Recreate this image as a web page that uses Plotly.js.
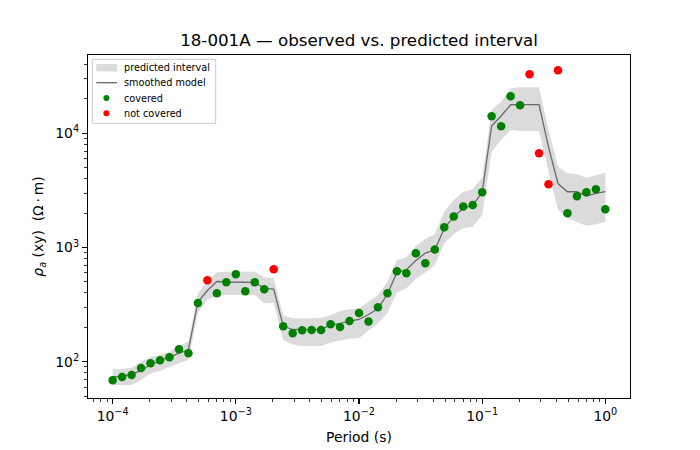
<!DOCTYPE html>
<html>
<head>
<meta charset="utf-8">
<script src="https://cdn.plot.ly/plotly-3.0.1.min.js"></script>
<style>html,body{margin:0;padding:0;background:#fff;}#chart{width:700px;height:450px;}</style>
</head>
<body>
<div id="chart"></div>
<script>
// Period (s)
const period = [
  1.0000e-4, 1.1938e-4, 1.4251e-4, 1.7013e-4, 2.0309e-4, 2.4245e-4, 2.8943e-4, 3.4551e-4, 4.1246e-4, 4.9239e-4, 5.8780e-4, 7.0170e-4, 8.3768e-4,
  1.0000e-3, 1.1938e-3, 1.4251e-3, 1.7013e-3, 2.0309e-3, 2.4245e-3, 2.8943e-3, 3.4551e-3, 4.1246e-3, 4.9239e-3, 5.8780e-3, 7.0170e-3, 8.3768e-3,
  1.0000e-2, 1.1938e-2, 1.4251e-2, 1.7013e-2, 2.0309e-2, 2.4245e-2, 2.8943e-2, 3.4551e-2, 4.1246e-2, 4.9239e-2, 5.8780e-2, 7.0170e-2, 8.3768e-2,
  1.0000e-1, 1.1938e-1, 1.4251e-1, 1.7013e-1, 2.0309e-1, 2.4245e-1, 2.8943e-1, 3.4551e-1, 4.1246e-1, 4.9239e-1, 5.8780e-1, 7.0170e-1, 8.3768e-1,
  1.0
];
// observed apparent resistivity (ohm m)
const observed = [
  68.7, 73.5, 76.5, 88.1, 96.8, 102.9, 109.3, 128.4, 118.5, 326.6, 516.2, 397.2, 495.8,
  582.6, 413.5, 495.8, 430.5, 644.3, 204.2, 177.3, 188.4, 189.5, 189.5, 212.6, 201.3, 227.2,
  267.0, 224.9, 299.5, 397.2, 618.8, 594.3, 889.6, 727.1, 960.5, 1503, 1868, 2286, 2356,
  3043, 14090, 11515, 21086, 17590, 32860, 6684, 3576, 35620, 1993, 2807, 3043, 3233,
  2160
];
// 1 = inside predicted interval, 0 = outside
const coveredFlag = [
  1,1,1,1,1,1,1,1,1,1,0,1,1,
  1,1,1,1,0,1,1,1,1,1,1,1,1,
  1,1,1,1,1,1,1,1,1,1,1,1,1,
  1,1,1,1,1,0,0,0,0,1,1,1,1,
  1
];
// smoothed model
const model = [
  73.9, 74.2, 77.3, 83.4, 94.5, 101.4, 110.0, 118.0, 127.9, 333.3, 420.3, 503.9, 498.8,
  495.8, 495.8, 495.8, 439.2, 433.1, 205.4, 191.4, 190.6, 191.4, 191.4, 209.6, 215.1, 227.2,
  234.2, 259.0, 291.1, 391.6, 604.0, 639.1, 769.2, 894.9, 950.8, 1473, 1861, 2205, 2356,
  3031, 11655, 14175, 17800, 17870, 17870, 17870, 7586, 3634, 3080, 3080, 2825, 2983,
  3080
];
// predicted interval bounds
const upper = [
  85.8, 86.3, 88.6, 100, 109.3, 114.5, 122.4, 137.3, 149.7, 397.2, 509.0, 606.4, 613.9,
  613.9, 613.9, 613.9, 548.3, 537.4, 253.9, 239.9, 238.9, 241.3, 241.3, 256.4, 276.3, 289.4,
  292.3, 335.2, 383.8, 503.9, 777.0, 820.6, 1031, 1187, 1313, 2058, 2606, 3080, 3233,
  4102, 15996, 18913, 24790, 25280, 25280, 25280, 10688, 5099, 4465, 4375, 4085, 4314,
  4519
];
const lower = [
  62.5, 62.5, 62.5, 69.1, 79.1, 83.4, 90.4, 96.8, 103.5, 268.6, 351.9, 370.9, 383.8,
  383.8, 383.8, 383.8, 324.6, 326.6, 154.9, 141.5, 136.4, 135.9, 137.3, 147.3, 153.3, 159.0,
  161.2, 187.6, 216.9, 267.0, 403.6, 439.2, 529.9, 604.0, 698.4, 1089, 1313, 1473, 1521,
  1926, 6902, 8737, 10688, 10475, 10475, 10475, 4611, 2130, 1802, 1683, 1552, 1597,
  1683
];
const xTickVals = [1e-4, 1e-3, 1e-2, 1e-1, 1];
const xTickText = ['10<sup>\u22124</sup>', '10<sup>\u22123</sup>', '10<sup>\u22122</sup>', '10<sup>\u22121</sup>', '10<sup>0</sup>'];
const yTickVals = [1e2, 1e3, 1e4];
const yTickText = ['10<sup>2</sup>', '10<sup>3</sup>', '10<sup>4</sup>'];
const legendLabels = ['predicted interval', 'smoothed model', 'covered', 'not covered'];

function minorTicks(lo, hi) {
  const out = [];
  for (let e = Math.floor(lo); e <= Math.ceil(hi); e++) {
    for (let m = 2; m <= 9; m++) {
      const v = m * Math.pow(10, e);
      const lv = Math.log10(v);
      if (lv >= lo && lv <= hi) out.push(v);
    }
  }
  return out;
}

const xRange = [-4.2, 0.2];
const yRange = [1.682, 4.686];

const covX = [], covY = [], ncX = [], ncY = [];
for (let i = 0; i < period.length; i++) {
  if (coveredFlag[i]) { covX.push(period[i]); covY.push(observed[i]); }
  else { ncX.push(period[i]); ncY.push(observed[i]); }
}

const FONT = 'DejaVu Sans, Liberation Sans, sans-serif';
const BAND = 'rgba(211,211,211,0.82)';
const LINE = '#6a6a6a';

const traces = [
  {x: period, y: lower, type: 'scatter', mode: 'lines', line: {width: 0, color: 'rgba(0,0,0,0)'},
   showlegend: false, hoverinfo: 'skip'},
  {x: period, y: upper, type: 'scatter', mode: 'lines', line: {width: 0, color: 'rgba(0,0,0,0)'},
   fill: 'tonexty', fillcolor: BAND, name: legendLabels[0], showlegend: false},
  {x: period, y: model, type: 'scatter', mode: 'lines', line: {width: 1.3, color: LINE},
   name: legendLabels[1], showlegend: false},
  {x: covX, y: covY, type: 'scatter', mode: 'markers', marker: {size: 8.5, color: 'green'},
   name: legendLabels[2], showlegend: false},
  {x: ncX, y: ncY, type: 'scatter', mode: 'markers', marker: {size: 8.5, color: 'red'},
   name: legendLabels[3], showlegend: false}
];

// legend box (drawn in paper coordinates of the plotting area: 542 x 343 px)
const PW = 542, PH = 343;
const px = v => v / PW;          // px offset from plot left -> paper x
const py = v => 1 - v / PH;      // px offset from plot top -> paper y
const L0 = 4.3, T0 = 4.3;        // box top-left offset
const rowY = [12.7, 27.7, 43, 58.3];
const shapes = [
  {type: 'rect', xref: 'paper', yref: 'paper', x0: px(L0), x1: px(L0 + 123.4), y0: py(T0), y1: py(T0 + 64),
   line: {color: '#cccccc', width: 1}, fillcolor: 'rgba(255,255,255,0.8)', layer: 'above'},
  {type: 'rect', xref: 'paper', yref: 'paper', x0: px(8.3), x1: px(29), y0: py(rowY[0] - 3.7), y1: py(rowY[0] + 3.7),
   line: {width: 0}, fillcolor: BAND, layer: 'above'},
  {type: 'line', xref: 'paper', yref: 'paper', x0: px(8.3), x1: px(29), y0: py(rowY[1]), y1: py(rowY[1]),
   line: {color: LINE, width: 1.3}, layer: 'above'},
  {type: 'circle', xref: 'paper', yref: 'paper', xsizemode: 'pixel', ysizemode: 'pixel',
   xanchor: px(18.4), yanchor: py(rowY[2]), x0: -3, x1: 3, y0: -3, y1: 3,
   line: {width: 0}, fillcolor: 'green', layer: 'above'},
  {type: 'circle', xref: 'paper', yref: 'paper', xsizemode: 'pixel', ysizemode: 'pixel',
   xanchor: px(18.4), yanchor: py(rowY[3]), x0: -3, x1: 3, y0: -3, y1: 3,
   line: {width: 0}, fillcolor: 'red', layer: 'above'}
];
const annotations = legendLabels.map((t, i) => ({
  text: t, xref: 'paper', yref: 'paper', x: px(33.5), y: py(rowY[i]), xanchor: 'left', yanchor: 'middle',
  showarrow: false, font: {family: FONT, size: 9.7, color: 'black'}
}));

const axisCommon = {
  type: 'log', showgrid: false, zeroline: false, showline: true, mirror: true,
  linecolor: 'black', linewidth: 1.1, ticks: 'outside', ticklen: 5, tickwidth: 1.1, tickcolor: 'black',
  tickmode: 'array', tickfont: {family: FONT, size: 13.9, color: 'black'}
};

const layout = {
  width: 700, height: 450,
  margin: {l: 88, r: 70, t: 55, b: 52, pad: 0},
  paper_bgcolor: 'white', plot_bgcolor: 'white',
  font: {family: FONT, color: 'black'},
  title: {text: '18-001A \u2014 observed vs. predicted interval', font: {family: FONT, size: 16.7, color: 'black'},
          x: 359 / 700, xref: 'container', xanchor: 'center', y: 1 - 40 / 450, yref: 'container', yanchor: 'middle'},
  xaxis: Object.assign({}, axisCommon, {
    range: xRange, tickvals: xTickVals, ticktext: xTickText,
    minor: {tickmode: 'array', tickvals: minorTicks(xRange[0], xRange[1]), ticks: 'outside', ticklen: 2.8, tickwidth: 0.8, tickcolor: 'black'},
    title: {text: 'Period (s)', font: {family: FONT, size: 13.9, color: 'black'}, standoff: 9}
  }),
  yaxis: Object.assign({}, axisCommon, {
    range: yRange, tickvals: yTickVals, ticktext: yTickText,
    minor: {tickmode: 'array', tickvals: minorTicks(yRange[0], yRange[1]), ticks: 'outside', ticklen: 2.8, tickwidth: 0.8, tickcolor: 'black'},
    title: {text: '<i>\u03c1</i><sub><i>a</i></sub> (xy)\u00a0\u00a0(\u03a9\u2009\u00b7\u2009m)', font: {family: FONT, size: 13.9, color: 'black'}, standoff: 8}
  }),
  shapes: shapes,
  annotations: annotations,
  showlegend: false
};

Plotly.newPlot('chart', traces, layout, {displayModeBar: false, staticPlot: true});
</script>
</body>
</html>
